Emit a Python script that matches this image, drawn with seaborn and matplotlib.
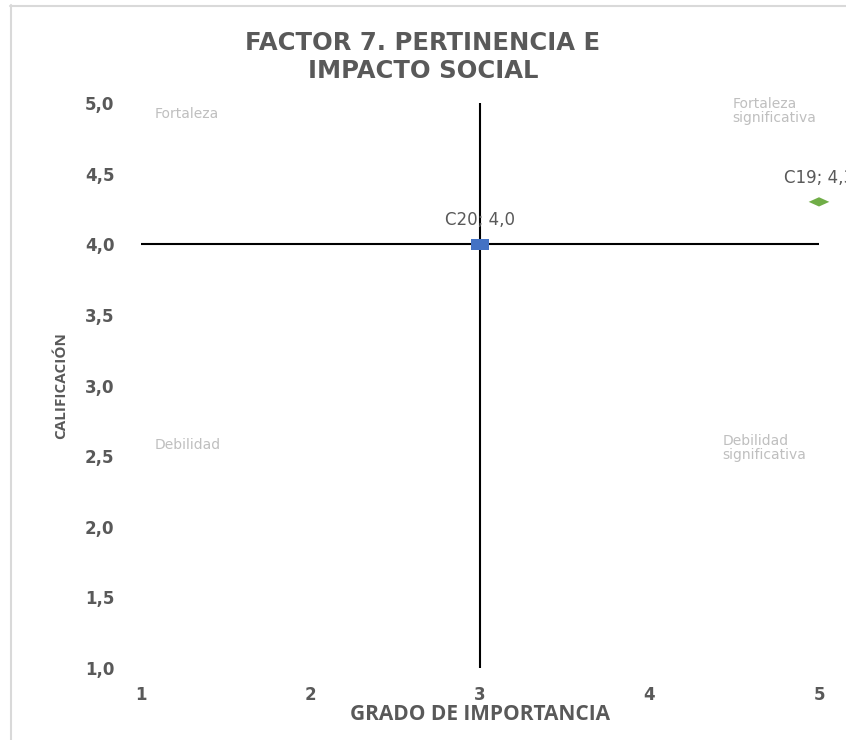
import matplotlib
matplotlib.use("Agg")
import matplotlib.pyplot as plt
from matplotlib.lines import Line2D
import seaborn as sns
import pandas as pd

# Criteria plotted on the importance / rating matrix
criterios = ["C20", "C19"]
importancia = [3, 5]
calificacion = [4.0, 4.3]
etiquetas = ["C20; 4,0", "C19; 4,3"]

x_ticks = [1, 2, 3, 4, 5]
y_ticks = [1.0, 1.5, 2.0, 2.5, 3.0, 3.5, 4.0, 4.5, 5.0]
y_tick_labels = ["1,0", "1,5", "2,0", "2,5", "3,0", "3,5", "4,0", "4,5", "5,0"]

cuadrantes = ["Fortaleza", "Fortaleza\nsignificativa", "Debilidad", "Debilidad\nsignificativa"]
cuadrante_x = [1.08, 4.49, 1.08, 4.43]
cuadrante_y = [4.92, 4.94, 2.58, 2.56]

df = pd.DataFrame({"Criterio": criterios, "Importancia": importancia,
                   "Calificacion": calificacion})

sns.set_theme(style="white")
plt.rcParams["font.family"] = ["Open Sans", "DejaVu Sans"]

TXT = "#595959"
fig = plt.figure(figsize=(8.46, 7.4), dpi=100)
ax = fig.add_axes([141 / 846, 1 - 668 / 740, (819 - 141) / 846, (668 - 103) / 740])

# wide rectangle and flattened diamond markers
rect = [(-1, -0.6), (1, -0.6), (1, 0.6), (-1, 0.6), (-1, -0.6)]
diam = [(-1, 0), (0, 0.45), (1, 0), (0, -0.45), (-1, 0)]

# quadrant dividers (axes crossing at importance 3, rating 4)
ax.axhline(4.0, color="black", lw=1.5, zorder=1)
ax.axvline(3.0, color="black", lw=1.5, zorder=1)

sns.scatterplot(data=df, x="Importancia", y="Calificacion", hue="Criterio",
                style="Criterio", size="Criterio",
                palette={"C20": "#4472C4", "C19": "#70AD47"},
                markers={"C20": rect, "C19": diam},
                sizes={"C20": 165, "C19": 220}, linewidth=0,
                legend=False, ax=ax, zorder=3, clip_on=False)

for xi, yi, lab in zip(importancia, calificacion, etiquetas):
    ax.annotate(lab, (xi, yi), xytext=(0, 11), textcoords="offset points",
                ha="center", va="bottom", fontsize=12, color=TXT,
                family="DejaVu Sans", annotation_clip=False)

for t, xq, yq in zip(cuadrantes, cuadrante_x, cuadrante_y):
    ax.text(xq, yq, t, fontsize=10, color="#BFBFBF", ha="left", va="center",
            family="DejaVu Sans", linespacing=1.0)

ax.set_xlim(1, 5)
ax.set_ylim(1, 5)
ax.set_xticks(x_ticks)
ax.set_xticklabels([str(v) for v in x_ticks])
ax.set_yticks(y_ticks)
ax.set_yticklabels(y_tick_labels)
for s in ax.spines.values():
    s.set_visible(False)
ax.tick_params(axis="x", length=0, pad=13, labelsize=12, labelcolor=TXT)
ax.tick_params(axis="y", length=0, pad=19, labelsize=12, labelcolor=TXT)
for lab in ax.get_xticklabels() + ax.get_yticklabels():
    lab.set_fontweight("bold")
    lab.set_family("DejaVu Sans")

ax.set_xlabel("GRADO DE IMPORTANCIA", fontsize=15, fontweight="bold", color=TXT,
              labelpad=0)
ax.set_ylabel("CALIFICACIÓN", fontsize=11, fontweight="bold", color=TXT,
              labelpad=12)

fig.text(0.5, 1 - 57 / 740, "FACTOR 7. PERTINENCIA E\nIMPACTO SOCIAL",
         ha="center", va="center", fontsize=17.5, fontweight="bold", color=TXT,
         family="DejaVu Sans", linespacing=1.25)

# chart area frame
fig.add_artist(Line2D([10.5 / 846, 10.5 / 846], [0, 1 - 5 / 740],
                      transform=fig.transFigure, color="#D9D9D9", lw=1.5))
fig.add_artist(Line2D([10 / 846, 1], [1 - 5.5 / 740, 1 - 5.5 / 740],
                      transform=fig.transFigure, color="#D9D9D9", lw=1.5))

fig.savefig("out.png", dpi=100)
